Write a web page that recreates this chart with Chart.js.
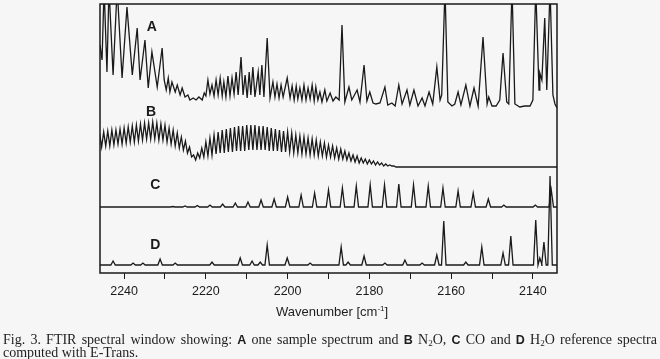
<!DOCTYPE html>
<html>
<head>
<meta charset="utf-8">
<script src="https://cdn.jsdelivr.net/npm/chart.js@4"></script>
<style>
  html, body { margin: 0; padding: 0; background: #f6f6f6; }
  #wrap { position: relative; width: 660px; height: 359px; overflow: hidden; }
  #axisTitle { position: absolute; left: 276px; top: 304px; font: 13px 'Liberation Sans', Arial, sans-serif; color: #1e1e1e; white-space: nowrap; }
  #axisTitle sup { font-size: 8px; vertical-align: 5px; line-height: 0; }
  .cap { position: absolute; left: 3px; width: 654px; font: 14px 'Liberation Serif', 'Times New Roman', serif; color: #1e1e1e; line-height: 13px; white-space: nowrap; }
  .cap sub { font-size: 9px; vertical-align: -2px; line-height: 0; }
  .cap b { font-family: 'Liberation Sans', Arial, sans-serif; font-weight: bold; font-size: 12.5px; }
  #cap1 { top: 333px; text-align: justify; text-align-last: justify; }
  #cap2 { top: 346px; }
</style>
</head>
<body>
<div id="wrap">
  <canvas id="ftir" width="660" height="359"></canvas>
  <div id="axisTitle">Wavenumber [cm<sup>-1</sup>]</div>
  <div class="cap" id="cap1">Fig. 3. FTIR spectral window showing: <b>A</b> one sample spectrum and <b>B</b> N<sub>2</sub>O, <b>C</b> CO and <b>D</b> H<sub>2</sub>O reference spectra</div>
  <div class="cap" id="cap2">computed with E-Trans.</div>
</div>
<script>
// axis
const waveMin = 2134.1, waveMax = 2245.9;
const tickMarks = [2240, 2230, 2220, 2210, 2200, 2190, 2180, 2170, 2160, 2150, 2140];
const tickLabels = [2240, 2220, 2200, 2180, 2160, 2140];

const specA = [
  [2245.9, 63], [2245.4, 48], [2244.9, 120], [2244.2, 36], [2243.7, 120], [2242.7, 33], [2241.7, 120],
  [2240.5, 30], [2239.3, 101], [2238.0, 33], [2236.8, 80], [2236.1, 28], [2234.9, 68], [2234.1, 20],
  [2233.2, 56], [2231.9, 21], [2230.7, 60], [2230.2, 28], [2229.7, 18], [2229.2, 30], [2228.8, 16],
  [2228.3, 26], [2227.5, 16], [2227.0, 23], [2226.3, 13], [2225.8, 20], [2225.1, 11], [2224.4, 13],
  [2223.9, 8], [2223.1, 10], [2222.4, 8], [2221.7, 11], [2220.9, 8], [2220.4, 15], [2220.0, 12],
  [2219.5, 28], [2219.0, 14], [2218.5, 23], [2218.0, 12], [2217.5, 28], [2217.0, 13], [2216.5, 30],
  [2216.0, 12], [2215.6, 26], [2215.1, 11], [2214.6, 32], [2214.1, 12], [2213.6, 30], [2213.1, 14],
  [2212.6, 36], [2212.1, 13], [2211.4, 51], [2210.9, 13], [2210.4, 33], [2209.9, 10], [2209.4, 36],
  [2209.0, 13], [2208.5, 41], [2208.0, 11], [2207.2, 36], [2206.8, 13], [2206.3, 43], [2205.8, 11],
  [2205.0, 70], [2204.3, 10], [2203.6, 26], [2203.1, 11], [2202.6, 24], [2202.1, 10], [2201.6, 23],
  [2201.1, 11], [2200.1, 30], [2199.4, 10], [2198.9, 22], [2198.4, 8], [2197.9, 22], [2197.5, 9],
  [2197.0, 20], [2196.5, 8], [2196.0, 23], [2195.5, 8], [2195.0, 20], [2194.5, 9], [2194.0, 23],
  [2193.5, 7], [2193.1, 21], [2192.6, 8], [2192.1, 16], [2191.6, 6], [2190.9, 18], [2190.4, 7],
  [2189.6, 15], [2188.9, 7], [2188.2, 11], [2187.4, 8], [2186.7, 83], [2186.0, 6], [2185.0, 21],
  [2184.3, 8], [2183.0, 18], [2182.3, 6], [2181.3, 43], [2180.6, 7], [2179.9, 16], [2179.1, 5],
  [2178.4, 4], [2177.4, 5], [2176.2, 21], [2175.5, 3], [2174.5, 5], [2173.7, 2], [2172.8, 23],
  [2172.0, 4], [2170.8, 18], [2170.1, 3], [2169.1, 18], [2168.1, 2], [2167.1, 10], [2166.4, 2],
  [2165.4, 16], [2164.5, 4], [2163.5, 41], [2162.7, 8], [2162.3, 13], [2161.5, 120], [2160.8, 6],
  [2159.8, 2], [2159.1, 4], [2158.3, 16], [2157.6, 3], [2156.4, 23], [2155.4, 2], [2154.4, 20],
  [2153.4, 2], [2152.2, 71], [2151.2, 4], [2150.8, 11], [2150.0, 2], [2149.0, 2], [2148.1, 8],
  [2147.3, 55], [2146.4, 6], [2145.9, 4], [2145.1, 120], [2144.4, 4], [2143.2, 1], [2142.0, 2],
  [2140.7, 2], [2140.0, 8], [2139.3, 120], [2138.5, 18], [2138.3, 35], [2137.8, 28], [2137.1, 90],
  [2136.6, 18], [2135.8, 120], [2135.1, 13], [2134.6, 4], [2134.1, 0]
];

// B: N2O reference, values every 0.5 cm-1 from 2246 downwards, then flat
const n2oStart = 2246, n2oStep = 0.5, n2oFlatEnd = 2134;
const n2oValues = [
  34, 20, 35, 21, 36, 21, 37, 22, 37, 23, 38, 23, 39, 24, 40, 25, 41, 25, 42, 26,
  43, 27, 44, 28, 44, 28, 45, 28, 44, 27, 43, 27, 42, 25, 39, 23, 37, 21, 34, 19,
  30, 17, 26, 14, 20, 10, 12, 7, 14, 9, 19, 10, 25, 11, 29, 12, 32, 13, 35, 14,
  37, 14, 38, 15, 39, 15, 40, 16, 41, 16, 41, 16, 42, 17, 42, 17, 42, 17, 41, 17,
  41, 17, 40, 16, 39, 16, 38, 16, 37, 15, 36, 15, 35, 15, 34, 14, 32, 14, 31, 13,
  30, 13, 29, 12, 28, 12, 27, 11, 25, 11, 24, 10, 22, 10, 21, 9, 19, 8, 18, 8,
  16, 7, 14, 6, 12, 5, 11, 4, 9, 4, 8, 3, 7, 3, 6, 2, 5, 2, 4, 1,
  3, 1, 2, 1, 1, 0, 0
];

// C: CO reference lines
const coLines = [2228.1, 2225.1, 2222.1, 2219.0, 2215.9, 2212.8, 2209.7, 2206.5, 2203.3, 2200.0,
  2196.7, 2193.4, 2190.0, 2186.6, 2183.2, 2179.8, 2176.3, 2172.8, 2169.2, 2165.6,
  2162.0, 2158.3, 2154.6, 2150.9, 2147.1, 2139.4, 2135.5];
const coHeights = [0.5, 1, 1.5, 2, 3, 4, 5, 7, 8, 10,
  12, 14, 17, 19, 21, 22, 22, 23, 22, 21,
  19, 16, 14, 8, 2, 2, 17];

// D: H2O reference lines
const h2oLines = [2242.7, 2237.8, 2235.4, 2231.2, 2227.5, 2218.5, 2211.6, 2208.7, 2206.7, 2205.0,
  2200.1, 2194.5, 2186.9, 2185.2, 2181.3, 2176.2, 2171.3, 2167.1, 2163.5, 2161.8,
  2156.4, 2152.5, 2147.3, 2145.4, 2139.3, 2138.3, 2137.3, 2135.8];
const h2oHeights = [4, 2, 2, 6, 2, 3, 7, 4, 3, 20,
  7, 2, 18, 3, 9, 2, 5, 2, 10, 44,
  3, 18, 12, 29, 45, 7, 23, 89];

// vertical placement of the stacked traces and their letters
const panelBase = { A: 165, B: 106, C: 66, D: 8 };
const panelLetters = [
  { text: 'A', x: 2233.2, y: 246 },
  { text: 'B', x: 2233.4, y: 161 },
  { text: 'C', x: 2232.4, y: 88 },
  { text: 'D', x: 2232.4, y: 28 }
];
const lineHalfWidth = 0.55;

const sans = "'Liberation Sans', Arial, sans-serif";
const ink = '#1a1a1a';

function lineSpectrum(centers, heights, base) {
  const pts = [{ x: waveMax, y: base }];
  centers.forEach((c, i) => {
    pts.push({ x: c + lineHalfWidth, y: base });
    pts.push({ x: c, y: base + heights[i] });
    pts.push({ x: c - lineHalfWidth, y: base });
  });
  pts.push({ x: waveMin, y: base });
  return pts;
}

const traceA = specA.map(p => ({ x: p[0], y: panelBase.A + p[1] }));
const traceB = n2oValues.map((v, i) => ({ x: n2oStart - i * n2oStep, y: panelBase.B + v }));
traceB.push({ x: n2oFlatEnd, y: panelBase.B });
const traceC = lineSpectrum(coLines, coHeights, panelBase.C);
const traceD = lineSpectrum(h2oLines, h2oHeights, panelBase.D);

const framePlugin = {
  id: 'frameAndLetters',
  afterDatasetsDraw(chart) {
    const { ctx, chartArea, scales } = chart;
    ctx.save();
    ctx.strokeStyle = ink;
    ctx.lineWidth = 1.5;
    ctx.strokeRect(chartArea.left, chartArea.top, chartArea.right - chartArea.left, chartArea.bottom - chartArea.top);
    ctx.fillStyle = ink;
    ctx.font = 'bold 14px ' + sans;
    ctx.textAlign = 'center';
    ctx.textBaseline = 'middle';
    panelLetters.forEach(l => {
      ctx.fillText(l.text, scales.x.getPixelForValue(l.x), scales.y.getPixelForValue(l.y));
    });
    ctx.restore();
  }
};

const mk = (label, data) => ({
  label, data,
  borderColor: ink,
  borderWidth: 1.3,
  pointRadius: 0,
  tension: 0,
  fill: false
});

new Chart(document.getElementById('ftir'), {
  type: 'line',
  data: {
    datasets: [
      mk('A sample', traceA),
      mk('B N2O', traceB),
      mk('C CO', traceC),
      mk('D H2O', traceD)
    ]
  },
  options: {
    responsive: false,
    animation: false,
    events: [],
    layout: { padding: { left: 100, right: 103, top: 4, bottom: 0 } },
    plugins: { legend: { display: false }, tooltip: { enabled: false } },
    scales: {
      x: {
        type: 'linear',
        reverse: true,
        min: waveMin,
        max: waveMax,
        afterBuildTicks: s => { s.ticks = tickMarks.map(v => ({ value: v })); },
        afterFit: s => { s.height = 86; },
        border: { display: false },
        grid: { drawOnChartArea: false, drawTicks: true, tickLength: 6, color: ink, lineWidth: 1 },
        ticks: {
          autoSkip: false,
          maxRotation: 0,
          padding: 5,
          color: ink,
          font: { family: sans, size: 12.5 },
          callback: v => tickLabels.includes(v) ? String(v) : ''
        }
      },
      y: { display: false, min: 0, max: 269 }
    }
  },
  plugins: [framePlugin]
});
</script>
</body>
</html>
